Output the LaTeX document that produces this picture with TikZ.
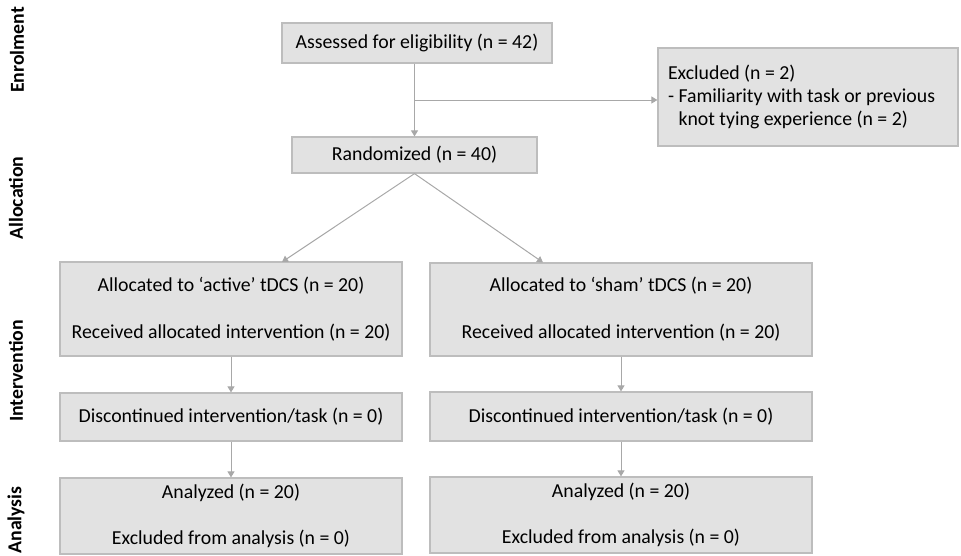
\documentclass[tikz,border=0pt]{standalone}
\usepackage{fontspec}
\setmainfont{Carlito}
\usetikzlibrary{arrows.meta,calc}
\definecolor{boxfill}{HTML}{E2E2E2}
\definecolor{boxline}{HTML}{BDBDBD}
\definecolor{arrowgray}{HTML}{A8A8A8}
\newcommand{\flowfont}{\fontsize{19.8}{23}\selectfont}
\tikzset{
    flowbox/.style={draw=boxline,fill=boxfill,line width=1.2pt,inner sep=0pt,align=center},
    phase/.style={rotate=90,font=\flowfont\bfseries},
    arr/.style={draw=arrowgray,line width=1pt,-{Triangle[width=7pt,length=6pt]}}
}
\begin{document}
\begin{tikzpicture}[x=1pt,y=-1pt,font=\flowfont]
        \useasboundingbox (0,0) rectangle (961,555);
        % phase labels
        \node[phase] (enrol) at (17,50) {Enrolment};
        \node[phase] (alloc) at (16,198) {Allocation};
        \node[phase] (interv) at (16,371) {Intervention};
        \node[phase] (anal) at (16,520) {Analysis};
        % boxes
        \node[flowbox,minimum width=270pt,minimum height=40pt] (assess) at (417,43) {Assessed for eligibility (n = 42)};
        \node[flowbox,minimum width=245pt,minimum height=36pt] (rand) at (414.5,155) {Randomized (n = 40)};
        \node[flowbox,minimum width=300pt,minimum height=98pt,align=flush left,text width=280pt] (excl) at (808,97)
            {Excluded (n = 2)\\- Familiarity with task or previous\\\phantom{- }knot tying experience (n = 2)};
        \node[flowbox,minimum width=342pt,minimum height=94pt] (act) at (231,309)
            {Allocated to ‘active’ tDCS (n = 20)\\[24pt]Received allocated intervention (n = 20)};
        \node[flowbox,minimum width=382pt,minimum height=93pt] (sham) at (621,309.5)
            {Allocated to ‘sham’ tDCS (n = 20)\\[24pt]Received allocated intervention (n = 20)};
        \node[flowbox,minimum width=342pt,minimum height=48pt] (discact) at (231,417) {Discontinued intervention/task (n = 0)};
        \node[flowbox,minimum width=382pt,minimum height=49pt] (discsham) at (621,416.5) {Discontinued intervention/task (n = 0)};
        \node[flowbox,minimum width=342pt,minimum height=76pt] (anaact) at (231,516)
            {Analyzed (n = 20)\\[23pt]Excluded from analysis (n = 0)};
        \node[flowbox,minimum width=382pt,minimum height=76pt] (anasham) at (621,515)
            {Analyzed (n = 20)\\[23pt]Excluded from analysis (n = 0)};
        % connectors
        \coordinate (split) at (414,100);
        \coordinate (actin) at (282,262);
        \coordinate (shamin) at (543,262.5);
        \draw[arr] (assess.south -| rand.north) -- (rand.north);
        \draw[arr] (split) -- (split -| excl.west);
        \draw[arr] (rand.south) -- (actin);
        \draw[arr] (rand.south) -- (shamin);
        \draw[arr] (act.south) -- (discact.north);
        \draw[arr] (discact.south) -- (anaact.north);
        \draw[arr] (sham.south) -- (discsham.north);
        \draw[arr] (discsham.south) -- (anasham.north);
\end{tikzpicture}
\end{document}
